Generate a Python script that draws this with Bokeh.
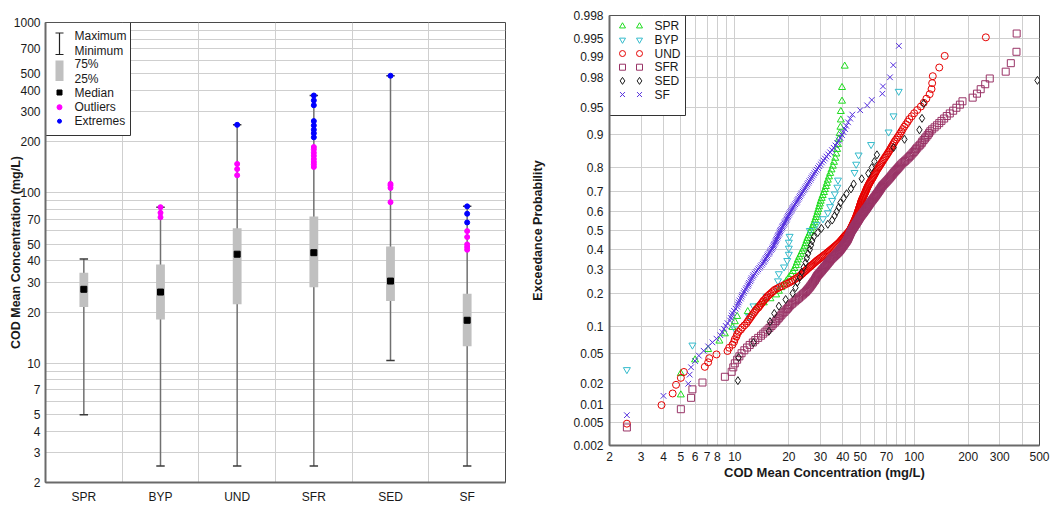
import math
from statistics import NormalDist
from bokeh.plotting import figure
from bokeh.models import Range1d, FixedTicker
from bokeh.embed import file_html
from bokeh.resources import INLINE
from bokeh.core.properties import value

FONT = "Liberation Sans"

# ---------------- data: box plot summary (left) ----------------
categories = ["SPR", "BYP", "UND", "SFR", "SED", "SF"]
box_min = [5.0, 2.5, 2.5, 2.5, 10.4, 2.5]
box_q1 = [21.4, 18.1, 22.2, 28.0, 23.2, 12.6]
box_med = [27.2, 26.2, 43.7, 44.6, 30.4, 17.9]
box_q3 = [34.0, 38.0, 62.0, 72.8, 48.5, 25.6]
box_max = [41.0, 82.5, 251.0, 373.0, 487.0, 83.4]
outlier_site = ["BYP", "BYP", "BYP", "UND", "UND", "UND",
                "SFR", "SFR", "SFR", "SFR", "SFR", "SFR", "SFR", "SFR",
                "SED", "SED", "SED", "SED",
                "SF", "SF", "SF", "SF", "SF"]
outlier_value = [82.5, 76.5, 72.0, 148.0, 138.0, 127.0,
                 186.0, 180.0, 172.0, 165.0, 158.0, 152.0, 147.0, 142.0,
                 113.0, 110.6, 107.0, 88.3,
                 59.7, 55.1, 49.9, 48.1, 46.4]
extreme_site = ["UND", "SFR", "SFR", "SFR", "SFR", "SFR", "SFR", "SFR", "SFR",
                "SED", "SF", "SF", "SF"]
extreme_value = [251.0, 373.0, 349.0, 327.0, 264.0, 249.0, 235.0, 224.0, 212.0,
                 487.0, 83.4, 75.5, 67.1]

left_y_ticks = [2, 3, 4, 5, 7, 10, 20, 30, 40, 50, 70, 100, 200, 300, 400, 500, 700, 1000]

# ---------------- data: probability plot (right) ----------------
spr_cod = [5.0, 5.0, 6.0, 7.1, 8.2, 8.8, 9.7, 10.0, 10.3, 11.8,
           13.2, 14.5, 15.8, 17.0, 17.6, 18.2, 18.8, 19.4, 20.0, 20.6,
           21.1, 21.5, 21.9, 22.2, 22.5, 22.9, 23.3, 23.7, 24.1, 24.5,
           24.8, 25.1, 25.4, 25.8, 26.2, 26.6, 27.0, 27.3, 27.7, 28.0,
           28.3, 28.6, 28.9, 29.2, 29.5, 29.8, 30.1, 30.5, 30.9, 31.4,
           31.8, 32.2, 32.6, 33.0, 33.5, 34.0, 34.6, 35.2, 35.7, 36.3,
           36.8, 37.2, 37.6, 38.0, 38.4, 38.8, 39.0, 39.0, 39.6, 39.6,
           41.0]
byp_cod = [2.5, 5.8, 10.0, 12.0, 12.7, 15.0, 17.2, 17.4, 17.6, 18.8,
           19.6, 20.0, 20.0, 20.0, 20.2, 26.2, 28.5, 31.0, 33.0, 34.0,
           34.9, 36.1, 37.3, 37.6, 46.5, 47.5, 49.0, 57.5, 72.0, 76.7,
           82.0]
und_cod = [2.5, 3.9, 4.5, 4.7, 5.0, 5.2, 6.8, 7.1, 7.2, 7.9,
           9.1, 9.3, 9.7, 9.9, 10.0, 10.2, 10.3, 10.5, 10.8, 11.0,
           11.3, 11.6, 11.8, 12.0, 12.2, 12.4, 12.6, 12.8, 13.0, 13.2,
           13.5, 13.7, 13.9, 14.1, 14.3, 14.5, 14.8, 15.0, 15.2, 15.5,
           15.8, 16.1, 16.4, 16.7, 17.2, 17.7, 18.3, 18.9, 19.5, 20.1,
           20.6, 21.1, 21.6, 22.1, 22.6, 23.1, 23.4, 23.8, 24.1, 24.5,
           24.9, 25.2, 25.6, 26.0, 26.4, 26.8, 27.2, 27.6, 28.0, 28.4,
           28.8, 29.3, 29.8, 30.3, 30.8, 31.3, 31.8, 32.3, 32.8, 33.3,
           33.8, 34.3, 34.8, 35.3, 35.8, 36.3, 36.8, 37.3, 37.8, 38.3,
           38.7, 39.1, 39.5, 39.9, 40.3, 40.7, 41.1, 41.6, 42.0, 42.5,
           42.9, 43.3, 43.7, 44.0, 44.3, 44.5, 44.8, 45.0, 45.3, 45.5,
           45.8, 46.0, 46.3, 46.5, 46.8, 47.0, 47.2, 47.4, 47.7, 47.9,
           48.1, 48.3, 48.5, 48.7, 48.9, 49.1, 49.3, 49.5, 49.7, 49.9,
           50.1, 50.3, 50.5, 50.7, 50.9, 51.2, 51.5, 51.8, 52.1, 52.4,
           52.7, 53.0, 53.3, 53.6, 53.9, 54.2, 54.5, 54.8, 55.2, 55.6,
           56.0, 56.4, 56.9, 57.4, 57.9, 58.4, 58.9, 59.4, 59.9, 60.4,
           60.9, 61.4, 62.0, 62.7, 63.4, 64.1, 64.8, 65.5, 66.2, 67.0,
           67.8, 68.6, 69.5, 70.4, 71.3, 72.2, 73.1, 74.0, 74.9, 75.9,
           76.9, 77.9, 79.3, 80.7, 82.1, 83.5, 84.9, 86.4, 88.0, 90.0,
           92.0, 94.0, 97.0, 100.0, 104.0, 109.0, 113.0, 117.0, 122.0, 125.0,
           126.0, 127.0, 138.0, 148.0, 251.0]
sfr_cod = [2.5, 5.0, 5.7, 5.8, 6.6, 8.8, 9.6, 9.8, 10.0, 10.3,
           10.6, 10.9, 11.3, 11.7, 12.1, 12.6, 13.0, 13.5, 14.0, 14.4,
           14.8, 15.2, 15.6, 16.0, 16.3, 16.7, 17.0, 17.3, 17.6, 17.9,
           18.2, 18.5, 18.9, 19.2, 19.5, 19.8, 20.1, 20.4, 20.8, 21.2,
           21.6, 22.0, 22.4, 22.8, 23.2, 23.6, 24.0, 24.4, 24.8, 25.1,
           25.4, 25.7, 26.0, 26.3, 26.5, 26.8, 27.0, 27.3, 27.5, 27.8,
           28.0, 28.2, 28.4, 28.6, 28.8, 29.1, 29.4, 29.7, 30.0, 30.3,
           30.6, 30.9, 31.2, 31.5, 31.8, 32.1, 32.4, 32.7, 33.0, 33.3,
           33.6, 33.9, 34.2, 34.5, 34.9, 35.3, 35.7, 36.1, 36.5, 36.9,
           37.3, 37.7, 38.1, 38.4, 38.7, 39.0, 39.3, 39.6, 39.9, 40.2,
           40.5, 40.8, 41.1, 41.4, 41.7, 42.0, 42.3, 42.5, 42.7, 42.9,
           43.1, 43.3, 43.5, 43.7, 43.9, 44.1, 44.3, 44.5, 44.7, 45.0,
           45.3, 45.6, 45.9, 46.2, 46.5, 46.8, 47.1, 47.4, 47.7, 48.0,
           48.3, 48.6, 48.9, 49.2, 49.5, 49.8, 50.1, 50.5, 50.9, 51.3,
           51.7, 52.1, 52.5, 52.9, 53.3, 53.7, 54.1, 54.5, 54.9, 55.3,
           55.7, 56.1, 56.5, 56.9, 57.3, 57.8, 58.3, 58.8, 59.3, 59.8,
           60.3, 60.8, 61.3, 61.8, 62.3, 62.8, 63.3, 63.8, 64.3, 64.8,
           65.3, 65.8, 66.3, 67.0, 67.8, 68.6, 69.4, 70.2, 71.0, 71.8,
           72.6, 73.4, 74.2, 75.0, 75.8, 76.6, 77.5, 78.5, 79.5, 80.5,
           81.5, 82.5, 83.6, 84.7, 86.0, 87.5, 89.0, 90.5, 92.0, 93.5,
           95.0, 96.5, 98.0, 99.5, 101.0, 102.5, 104.0, 106.0, 108.0, 110.0,
           111.0, 113.0, 115.0, 117.0, 119.0, 121.0, 123.0, 126.0, 130.0, 134.0,
           138.0, 142.0, 147.0, 152.0, 158.0, 165.0, 172.0, 180.0, 186.0, 212.0,
           224.0, 235.0, 249.0, 264.0, 324.0, 346.0, 372.0, 373.0]
sed_cod = [10.4, 10.5, 12.7, 15.5, 15.7, 16.6, 17.6, 19.2, 21.0, 21.8,
           22.3, 23.1, 23.6, 24.2, 24.8, 25.2, 25.6, 26.2, 26.6, 27.0,
           27.6, 29.0, 30.4, 33.0, 34.9, 36.0, 37.0, 38.0, 38.8, 40.4,
           42.0, 44.4, 46.0, 51.0, 55.5, 58.0, 60.0, 62.0, 76.8, 88.3,
           107.0, 110.6, 113.0, 487.0]
sf_cod = [2.5, 4.0, 5.5, 5.6, 5.7, 6.0, 6.3, 6.7, 7.1, 7.5,
          7.9, 8.3, 8.5, 8.7, 8.9, 9.1, 9.4, 9.5, 9.6, 9.7,
          9.9, 10.1, 10.3, 10.4, 10.5, 10.6, 10.8, 10.9, 11.0, 11.2,
          11.3, 11.5, 11.6, 11.8, 11.9, 12.0, 12.2, 12.3, 12.4, 12.6,
          12.7, 12.9, 13.1, 13.3, 13.5, 13.7, 13.9, 14.1, 14.3, 14.5,
          14.6, 14.8, 14.9, 15.1, 15.2, 15.4, 15.6, 15.7, 15.9, 16.1,
          16.2, 16.4, 16.5, 16.6, 16.8, 16.9, 17.0, 17.1, 17.3, 17.4,
          17.5, 17.7, 17.8, 17.9, 18.0, 18.2, 18.4, 18.5, 18.7, 18.9,
          19.0, 19.2, 19.4, 19.5, 19.7, 19.8, 20.0, 20.2, 20.4, 20.6,
          20.8, 21.0, 21.2, 21.4, 21.7, 22.0, 22.2, 22.4, 22.6, 22.9,
          23.1, 23.4, 23.6, 23.9, 24.2, 24.5, 24.8, 25.1, 25.4, 25.7,
          26.0, 26.4, 26.7, 27.0, 27.4, 27.8, 28.2, 28.6, 29.1, 29.6,
          30.1, 30.6, 31.2, 31.8, 32.4, 33.2, 34.0, 34.8, 35.6, 36.4,
          37.2, 38.0, 38.8, 39.6, 40.4, 41.2, 41.8, 42.8, 44.0, 45.2,
          50.0, 54.7, 58.0, 66.5, 67.0, 73.3, 76.5, 82.2]

series_names = ["SPR", "BYP", "UND", "SFR", "SED", "SF"]
series_values = [spr_cod, byp_cod, und_cod, sfr_cod, sed_cod, sf_cod]

right_x_ticks = [2, 3, 4, 5, 6, 7, 8, 10, 20, 30, 40, 50, 70, 100, 200, 300, 500]
prob_ticks = [0.002, 0.005, 0.01, 0.02, 0.05, 0.1, 0.2, 0.3, 0.4, 0.5, 0.6,
              0.7, 0.8, 0.9, 0.95, 0.98, 0.99, 0.995, 0.998]

# ---------------- styles ----------------
series_markers = ["triangle", "inverted_triangle", "circle", "square", "diamond", "x"]
series_colors = ["#1fdc1f", "#33bbcc", "#e60000", "#993366", "#1a1a1a", "#5530dd"]
series_sizes = [7, 7, 7, 7, 8, 8]
GRID = "#cfcfcf"
LABEL_COLOR = "#1a1a1a"

nd = NormalDist()


def all_multiples(lo, hi):
    out = []
    dec = 1
    while dec <= hi:
        for k in range(1, 10):
            v = k * dec
            if lo <= v <= hi:
                out.append(v)
        dec *= 10
    return out


def style_axes(p):
    for ax in p.axis:
        ax.major_tick_line_color = None
        ax.minor_tick_line_color = None
        ax.major_tick_out = 0
        ax.major_tick_in = 0
        ax.minor_tick_out = 0
        ax.minor_tick_in = 0
        ax.axis_line_color = "#6a6a6a"
        ax.axis_line_width = 2
        ax.major_label_text_font = FONT
        ax.major_label_text_font_size = "12px"
        ax.major_label_text_color = LABEL_COLOR
        ax.axis_label_text_font = FONT
        ax.axis_label_text_font_style = "bold"
        ax.axis_label_text_color = LABEL_COLOR
    p.outline_line_color = "#4a4a4a"
    p.outline_line_width = 1
    p.background_fill_color = "white"
    p.border_fill_color = "white"


# ======================= LEFT: box plot =======================
FW1, FH1 = 460, 460
YMIN1, YMAX1 = 2, 1000
p1 = figure(width=525, height=506, x_range=Range1d(0, len(categories)),
            y_range=Range1d(YMIN1, YMAX1), y_axis_type="log",
            output_backend="svg", toolbar_location=None,
            min_border_left=45, min_border_right=20,
            min_border_top=22, min_border_bottom=24)
style_axes(p1)

ygrid_vals = all_multiples(YMIN1, YMAX1)
yt1 = FixedTicker(ticks=left_y_ticks,
                  minor_ticks=[v for v in ygrid_vals if v not in left_y_ticks])
p1.yaxis.ticker = yt1
p1.ygrid.ticker = yt1
p1.yaxis.major_label_overrides = {v: str(v) for v in left_y_ticks}
p1.ygrid.grid_line_color = GRID
p1.ygrid.minor_grid_line_color = GRID

xc = [i + 0.5 for i in range(len(categories))]
p1.xaxis.ticker = FixedTicker(ticks=xc)
p1.xaxis.major_label_overrides = {x: c for x, c in zip(xc, categories)}
p1.xgrid.ticker = FixedTicker(ticks=list(range(1, len(categories))))
p1.xgrid.grid_line_color = GRID
p1.xaxis.major_label_standoff = 7
p1.yaxis.major_label_standoff = 5
p1.yaxis.axis_label = "COD Mean Concentration (mg/L)"
p1.yaxis.axis_label_text_font_size = "12.5px"
p1.yaxis.axis_label_standoff = -12

CAP = 0.055
BOXW = 0.115
p1.segment(x0=xc, y0=box_min, x1=xc, y1=box_max, line_color="#707070", line_width=1.5)
p1.segment(x0=[x - CAP for x in xc], y0=box_max, x1=[x + CAP for x in xc], y1=box_max,
           line_color="#3a3a3a", line_width=1.5)
p1.segment(x0=[x - CAP for x in xc], y0=box_min, x1=[x + CAP for x in xc], y1=box_min,
           line_color="#3a3a3a", line_width=1.5)
p1.vbar(x=xc, width=BOXW, bottom=box_q1, top=box_q3, fill_color="#c0c0c0", line_color=None)
p1.scatter(x=xc, y=box_med, marker="square", size=6, color="black")
p1.scatter(x=[xc[categories.index(s)] for s in outlier_site], y=outlier_value,
           marker="circle", size=5, color="#ff00ff")
p1.scatter(x=[xc[categories.index(s)] for s in extreme_site], y=extreme_value,
           marker="circle", size=5, color="#0000ff")


# legend (frame-pixel offsets -> data coords)
def lx(px):
    return px / FW1 * len(categories)


def ly(py):
    return 10 ** (math.log10(YMAX1) - py / FH1 * math.log10(YMAX1 / YMIN1))


p1.quad(left=[lx(0)], right=[lx(85)], top=[ly(0)], bottom=[ly(113)],
        fill_color="white", line_color="#333333", line_width=1)
p1.segment(x0=[lx(14)], y0=[ly(10.5)], x1=[lx(14)], y1=[ly(32)], line_color="#222222", line_width=1.2)
p1.segment(x0=[lx(10), lx(10)], y0=[ly(10.5), ly(32)], x1=[lx(18), lx(18)], y1=[ly(10.5), ly(32)],
           line_color="#222222", line_width=1.2)
p1.quad(left=[lx(10)], right=[lx(18)], top=[ly(38)], bottom=[ly(58.5)],
        fill_color="#c0c0c0", line_color=None)
p1.scatter(x=[lx(14)], y=[ly(70)], marker="square", size=5, color="black")
p1.scatter(x=[lx(14)], y=[ly(84.7)], marker="circle", size=5, color="#ff00ff")
p1.scatter(x=[lx(14)], y=[ly(98.7)], marker="circle", size=4, color="#0000ff")
leg1_text = ["Maximum", "Minimum", "75%", "25%", "Median", "Outliers", "Extremes"]
leg1_rows = [13.7, 28, 41.7, 56.3, 70, 84.7, 98.7]
p1.text(x=[lx(29)] * len(leg1_text), y=[ly(r) for r in leg1_rows], text=leg1_text,
        text_font=value(FONT), text_font_size="12px", text_baseline="middle",
        text_align="left", text_color=LABEL_COLOR)

# ======================= RIGHT: probability plot =======================
FW2, FH2 = 430, 430
XMIN2, XMAX2 = 2, 500
ZMAX = nd.inv_cdf(0.998)
p2 = figure(width=525, height=506, x_axis_type="log",
            x_range=Range1d(XMIN2, XMAX2), y_range=Range1d(-ZMAX, ZMAX),
            output_backend="svg", toolbar_location=None,
            min_border_left=84, min_border_right=11,
            min_border_top=15, min_border_bottom=61)
style_axes(p2)

xgrid_vals = all_multiples(XMIN2, XMAX2)
xt2 = FixedTicker(ticks=right_x_ticks,
                  minor_ticks=[v for v in xgrid_vals if v not in right_x_ticks])
p2.xaxis.ticker = xt2
p2.xgrid.ticker = xt2
p2.xaxis.major_label_overrides = {v: str(v) for v in right_x_ticks}
p2.xgrid.grid_line_color = GRID
p2.xgrid.minor_grid_line_color = GRID

zt = [nd.inv_cdf(p) for p in prob_ticks]
yt2 = FixedTicker(ticks=zt)
p2.yaxis.ticker = yt2
p2.ygrid.ticker = yt2
p2.yaxis.major_label_overrides = {z: f"{p:g}" for z, p in zip(zt, prob_ticks)}
p2.ygrid.grid_line_color = GRID

p2.xaxis.major_label_standoff = 6
p2.yaxis.major_label_standoff = 6
p2.xaxis.axis_label = "COD Mean Concentration (mg/L)"
p2.xaxis.axis_label_text_font_size = "13px"
p2.xaxis.axis_label_standoff = 1
p2.yaxis.axis_label = "Exceedance Probability"
p2.yaxis.axis_label_text_font_size = "12.5px"
p2.yaxis.axis_label_standoff = 25

for vals, mk, col, sz in zip(series_values, series_markers, series_colors, series_sizes):
    conc = sorted(vals)
    n = len(conc)
    z = [nd.inv_cdf((i + 1) / (n + 1)) for i in range(n)]
    p2.scatter(x=conc, y=z, marker=mk, size=sz, fill_color=None,
               line_color=col, line_width=1)


def rx(px):
    return XMIN2 * 10 ** (px / FW2 * math.log10(XMAX2 / XMIN2))


def ry(py):
    return ZMAX - py / FH2 * 2 * ZMAX


p2.quad(left=[rx(0)], right=[rx(76)], top=[ry(0)], bottom=[ry(100)],
        fill_color="white", line_color="#333333", line_width=1)
leg2_rows = [10.7 + 13.67 * k for k in range(len(series_names))]
for k, (mk, col, sz) in enumerate(zip(series_markers, series_colors, series_sizes)):
    p2.scatter(x=[rx(13), rx(30)], y=[ry(leg2_rows[k])] * 2, marker=mk, size=sz - 1,
               fill_color=None, line_color=col, line_width=1)
p2.text(x=[rx(45)] * len(series_names), y=[ry(r) for r in leg2_rows], text=series_names,
        text_font=value(FONT), text_font_size="12px", text_baseline="middle",
        text_align="left", text_color=LABEL_COLOR)

# two independent roots laid side by side (no frame alignment between panels)
SIDE_BY_SIDE = """
{% block postamble %}
<style>
  html, body { margin: 0 !important; padding: 0 !important; }
  body { display: flex !important; flex-direction: row; align-items: flex-start; }
</style>
{% endblock %}
"""

open("out.html", "w").write(
    file_html((p1, p2), INLINE, title="COD Mean Concentration", template=SIDE_BY_SIDE))
